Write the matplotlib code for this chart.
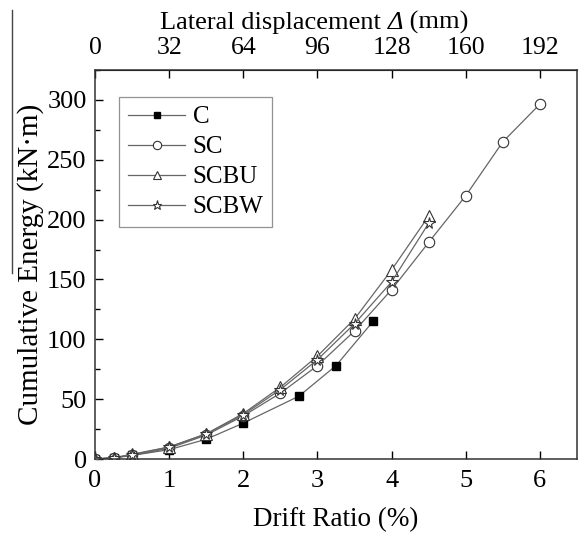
import matplotlib
matplotlib.use("Agg")
import matplotlib.pyplot as plt
from matplotlib.lines import Line2D
from matplotlib.ticker import MultipleLocator

plt.rcParams['font.family'] = ['Liberation Serif', 'DejaVu Serif']

# ---------------------------------------------------------- #
#  Data                             #
# ---------------------------------------------------------- #
c_drift = [0, 0.25, 0.5, 1, 1.5, 2, 2.75, 3.25, 3.75]
c_energy = [0, 1, 3, 7.8, 16.5, 30, 52.5, 78, 115]

sc_drift = [0, 0.25, 0.5, 1, 1.5, 2, 2.5, 3, 3.5, 4, 4.5, 5, 5.5, 6]
sc_energy = [0, 1, 3, 9, 20, 36, 55, 78, 107, 141.5, 181, 220, 265, 296.5]

scbu_drift = [0, 0.25, 0.5, 1, 1.5, 2, 2.5, 3, 3.5, 4, 4.5]
scbu_energy = [0, 1, 4, 10, 21, 38, 60, 86, 117, 158, 203]

scbw_drift = [0, 0.25, 0.5, 1, 1.5, 2, 2.5, 3, 3.5, 4, 4.5]
scbw_energy = [0, 1, 3.5, 10, 21, 37, 58, 83, 113, 148, 197]

top_ticks = [0, 32, 64, 96, 128, 160, 192]
MM_PER_PCT = 32

LINE_C = '#666666'
EDGE_C = '#333333'


def main():
    fig = plt.figure(figsize=(5.82, 5.39), dpi=100)
    ax = fig.add_axes([95 / 582, 1 - 459 / 539, (577 - 95) / 582, (459 - 70) / 539])

    ax.plot(c_drift, c_energy, color=LINE_C, lw=0.9, marker='s', ms=6,
            mfc='black', mec='black', label='C')
    ax.plot(sc_drift, sc_energy, color=LINE_C, lw=0.9, marker='o', ms=7.5,
            mfc='white', mec=EDGE_C, mew=0.8, label='SC')
    ax.plot(scbu_drift, scbu_energy, color=LINE_C, lw=0.9, marker='^', ms=8,
            mfc='white', mec=EDGE_C, mew=0.8, label='SCBU')
    ax.plot(scbw_drift, scbw_energy, color=LINE_C, lw=0.9, marker='*', ms=8.5,
            mfc='white', mec=EDGE_C, mew=0.8, label='SCBW')

    ax.set_xlim(0, 6.5)
    ax.set_ylim(0, 325)
    ax.xaxis.set_major_locator(MultipleLocator(1))
    ax.yaxis.set_major_locator(MultipleLocator(50))
    ax.yaxis.set_minor_locator(MultipleLocator(25))
    ax.tick_params(which='both', direction='in', labelsize=19, top=False, right=False)
    ax.tick_params(which='major', length=6, width=1)
    ax.tick_params(which='minor', length=3.5, width=1)
    ax.tick_params(axis='x', pad=8)
    ax.tick_params(axis='y', pad=6)
    for s in ax.spines.values():
        s.set_linewidth(1.1)
        s.set_color('#333333')

    ax.set_xlabel('Drift Ratio (%)', fontsize=19.5, labelpad=11)
    ax.set_ylabel('Cumulative Energy (kN\u00b7m)', fontsize=21, labelpad=2)

    top = ax.secondary_xaxis('top', functions=(lambda x: x * MM_PER_PCT,
                                               lambda x: x / MM_PER_PCT))
    top.set_xticks(top_ticks)
    top.tick_params(direction='in', length=6, width=1, labelsize=18.5, pad=8)

    # top axis title, with an italic Delta
    t1 = fig.text(160 / 582, 1 - 29 / 539, 'Lateral displacement ', fontsize=19,
                  ha='left', va='baseline')
    t2 = ax.annotate('\u0394', xy=(1, 0), xycoords=t1, fontsize=19,
                     fontstyle='italic', ha='left', va='bottom')
    ax.annotate(' (mm)', xy=(1, 0), xycoords=t2, fontsize=19,
                ha='left', va='bottom')

    leg = ax.legend(loc='upper left', bbox_to_anchor=(0.05, 0.93), fontsize=18,
                    frameon=True, fancybox=False, edgecolor='#777777',
                    handlelength=2.3, handletextpad=0.3, borderpad=0.35,
                    labelspacing=0.3, markerscale=0.8, borderaxespad=0)
    leg.get_frame().set_linewidth(0.9)

    # stray vertical rule at the top-left of the scanned figure
    fig.add_artist(Line2D([12 / 582, 12 / 582], [1 - 10 / 539, 1 - 273 / 539],
                          transform=fig.transFigure, color='#444444', lw=1))

    fig.savefig('out.png', dpi=100)


if __name__ == "__main__":
    main()
